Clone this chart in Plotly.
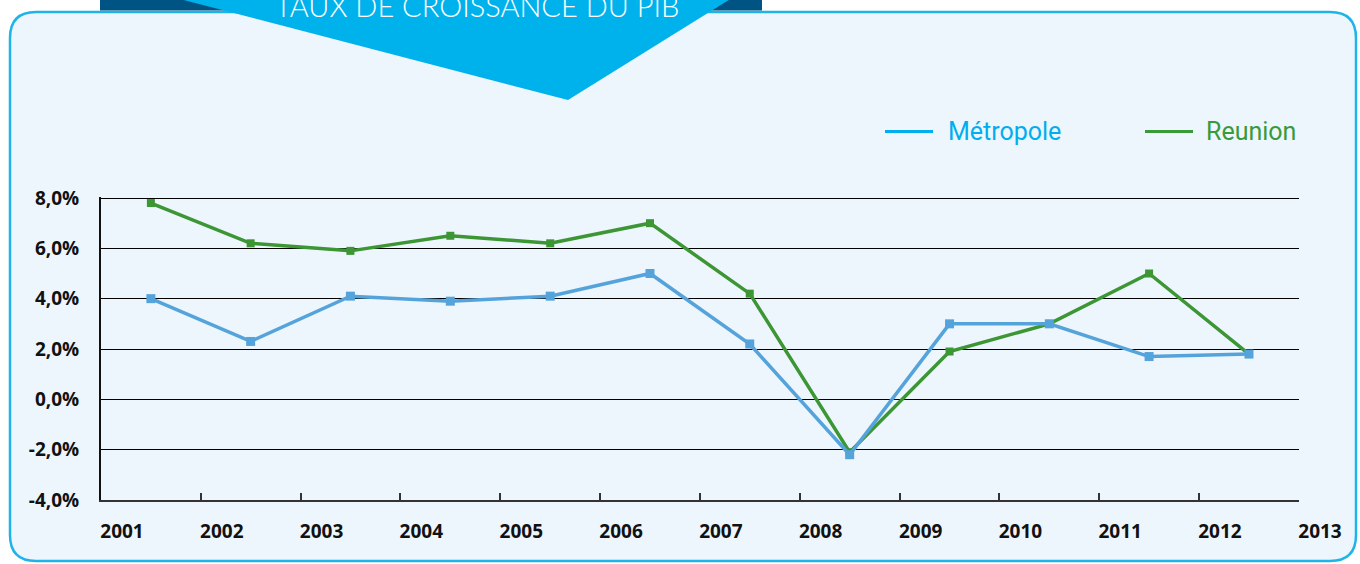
import plotly.graph_objects as go

# ---------------- data ----------------
years = ["2001", "2002", "2003", "2004", "2005", "2006",
         "2007", "2008", "2009", "2010", "2011", "2012"]
metropole = [4.0, 2.3, 4.1, 3.9, 4.1, 5.0, 2.2, -2.2, 3.0, 3.0, 1.7, 1.8]
reunion = [7.8, 6.2, 5.9, 6.5, 6.2, 7.0, 4.2, -2.1, 1.9, 3.0, 5.0, 1.8]

x_tick_vals = ["2001-01-01", "2002-01-01", "2003-01-01", "2004-01-01", "2005-01-01",
               "2006-01-01", "2007-01-01", "2008-01-01", "2009-01-01", "2010-01-01",
               "2011-01-01", "2012-01-01", "2013-01-01"]
x_tick_text = ["2001", "2002", "2003", "2004", "2005", "2006", "2007",
               "2008", "2009", "2010", "2011", "2012", "2013"]
y_tick_vals = [-4, -2, 0, 2, 4, 6, 8]
y_tick_text = ["-4,0%", "-2,0%", "0,0%", "2,0%", "4,0%", "6,0%", "8,0%"]

title_text = "TAUX DE CROISSANCE DU PIB"
series_names = ["Métropole", "Reunion"]

# ---------------- styles ----------------
W, H = 1360, 564
OFF = 0  # body margin removed below, figure fills the window
ML, MT, PW, PH = 101 - OFF, 197 - OFF, 1198, 303
MR, MB = W - ML - PW, H - MT - PH

C_METRO = "#55A3DB"
C_REUN = "#3C9634"
C_METRO_LEG = "#00AEEF"
C_REUN_LEG = "#3A9A3A"
C_PANEL = "#EEF6FD"
C_BORDER = "#1EB4EA"
C_NAVY = "#005484"
C_CYAN = "#00B2EC"


def px(p):
    return (p - OFF - ML) / PW


def py(p):
    return (MT + PH - (p - OFF)) / PH


fig = go.Figure()

fig.add_trace(go.Scatter(
    x=years, y=reunion, name=series_names[1], mode="lines+markers",
    xperiod="M12", xperiodalignment="middle",
    line=dict(color=C_REUN, width=3.5),
    marker=dict(symbol="square", size=8, color=C_REUN),
    showlegend=False, cliponaxis=False,
))
fig.add_trace(go.Scatter(
    x=years, y=metropole, name=series_names[0], mode="lines+markers",
    xperiod="M12", xperiodalignment="middle",
    line=dict(color=C_METRO, width=3.5),
    marker=dict(symbol="square", size=9, color=C_METRO),
    showlegend=False, cliponaxis=False,
))

shapes = []
# rounded panel
L, R, T, B, r = 10, 1356, 12, 561, 26
pts = [
    ("M", (L + r, T)), ("L", (R - r, T)), ("Q", (R, T), (R, T + r)),
    ("L", (R, B - r)), ("Q", (R, B), (R - r, B)), ("L", (L + r, B)),
    ("Q", (L, B), (L, B - r)), ("L", (L, T + r)), ("Q", (L, T), (L + r, T)),
]
path = ""
for item in pts:
    cmd = item[0]
    coords = " ".join(f"{px(a):.5f},{py(b):.5f}" for a, b in item[1:])
    path += f"{cmd} {coords} "
path += "Z"
shapes.append(dict(type="path", xref="paper", yref="paper", path=path,
                   fillcolor=C_PANEL, line=dict(color=C_BORDER, width=2.5),
                   layer="below"))
# navy banner
shapes.append(dict(type="rect", xref="paper", yref="paper",
                   x0=px(100), x1=px(762), y0=py(-5), y1=py(10.5),
                   fillcolor=C_NAVY, line=dict(width=0), layer="below"))
# cyan triangle
tri = (f"M {px(176):.5f},{py(-2):.5f} L {px(732):.5f},{py(-2):.5f} "
       f"L {px(568):.5f},{py(100):.5f} Z")
shapes.append(dict(type="path", xref="paper", yref="paper", path=tri,
                   fillcolor=C_CYAN, line=dict(width=0), layer="below"))
# legend lines
shapes.append(dict(type="line", xref="paper", yref="paper",
                   x0=px(885), x1=px(933), y0=py(131.5), y1=py(131.5),
                   line=dict(color=C_METRO_LEG, width=3)))
shapes.append(dict(type="line", xref="paper", yref="paper",
                   x0=px(1145), x1=px(1193), y0=py(131.5), y1=py(131.5),
                   line=dict(color=C_REUN_LEG, width=3)))

annotations = [
    dict(text=title_text, xref="paper", yref="paper", x=px(477), y=py(5),
         xanchor="center", yanchor="middle", showarrow=False,
         font=dict(family="Lato", size=29, color="white", weight=300)),
    dict(text=series_names[0], xref="paper", yref="paper", x=px(946), y=py(131),
         xanchor="left", yanchor="middle", showarrow=False,
         font=dict(family="Roboto", size=25, color=C_METRO_LEG)),
    dict(text=series_names[1], xref="paper", yref="paper", x=px(1204), y=py(131),
         xanchor="left", yanchor="middle", showarrow=False,
         font=dict(family="Roboto", size=25, color=C_REUN_LEG)),
]

fig.update_layout(
    width=W, height=H,
    margin=dict(l=ML, r=MR, t=MT, b=MB, pad=0),
    paper_bgcolor="white",
    plot_bgcolor="rgba(0,0,0,0)",
    shapes=shapes,
    annotations=annotations,
    showlegend=False,
    xaxis=dict(
        type="date", range=["2001-01-01", "2013-01-01"],
        tickmode="array", tickvals=x_tick_vals, ticktext=x_tick_text,
        showgrid=False, zeroline=False,
        showline=True, linecolor="#333333", linewidth=2,
        ticks="inside", ticklen=7, tickwidth=1.5, tickcolor="#333333",
        ticklabelshift=21, ticklabelstandoff=13,
        tickfont=dict(family="Open Sans", size=19, color="#111111", weight="bold"),
    ),
    yaxis=dict(
        range=[-4, 8.04], tickmode="array", tickvals=y_tick_vals, ticktext=y_tick_text,
        showgrid=True, gridcolor="#000000", gridwidth=1.2,
        zeroline=False,
        showline=True, linecolor="#111111", linewidth=2,
        ticks="", ticklabelstandoff=16,
        tickfont=dict(family="Open Sans", size=19, color="#111111", weight="bold"),
    ),
)

fig.write_html("out.html",
               config={"displayModeBar": False},
               post_script="document.body.style.margin='0';document.body.style.overflow='hidden';")
